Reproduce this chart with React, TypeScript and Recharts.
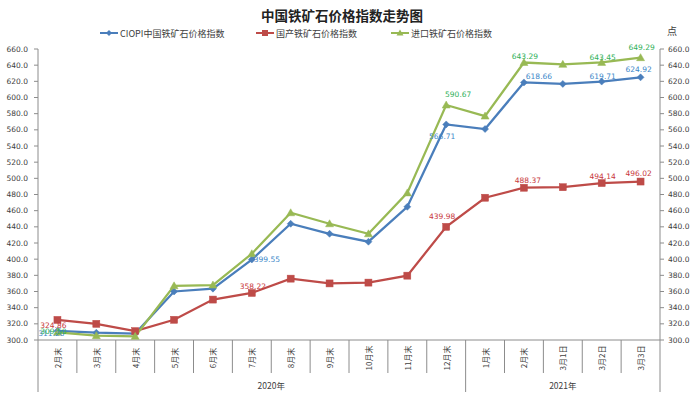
import React from 'react';
import { LineChart, Line, XAxis, YAxis, LabelList } from 'recharts';

const categories = ['2月末', '3月末', '4月末', '5月末', '6月末', '7月末', '8月末', '9月末', '10月末', '11月末', '12月末', '1月末', '2月末', '3月1日', '3月2日', '3月3日'];
const ciopi = [311.2, 309.0, 308.0, 360.0, 363.5, 399.55, 443.8, 431.4, 421.6, 464.8, 566.71, 561.0, 618.66, 616.8, 619.71, 624.92];
const domestic = [324.86, 320.0, 311.0, 325.0, 350.0, 358.22, 375.9, 370.0, 371.0, 379.6, 439.98, 476.0, 488.37, 489.0, 494.14, 496.02];
const imported = [309.5, 305.4, 304.5, 367.0, 368.0, 406.7, 457.4, 443.8, 431.4, 482.0, 590.67, 577.0, 643.29, 641.0, 643.45, 649.29];
const yTicks = [300, 320, 340, 360, 380, 400, 420, 440, 460, 480, 500, 520, 540, 560, 580, 600, 620, 640, 660];
const yearLabels = ['2020年', '2021年'];
const seriesNames = ['CIOPI中国铁矿石价格指数', '国产铁矿石价格指数', '进口铁矿石价格指数'];
const title = '中国铁矿石价格指数走势图';
const unitLabel = '点';

const data = categories.map((c, i) => ({ cat: c, ciopi: ciopi[i], domestic: domestic[i], imported: imported[i] }));

const CHART_W = 697;
const PLOT_LEFT = 38;
const PLOT_RIGHT_W = 37;
const HALF_BAND = (CHART_W - PLOT_LEFT - PLOT_RIGHT_W) / categories.length / 2;

const BLUE = '#4A7EBB';
const RED = '#BE4B48';
const GREEN = '#98B954';
const AXIS = '#8C8C8C';
const TXT = '#404040';
const NUMFONT = 'DejaVu Sans, sans-serif';
const CJK = '"Noto Sans CJK SC", sans-serif';

// label offsets (dx, dy) relative to point, keyed by index
const blueLabelPos: Record<number, [number, number]> = { 0: [-6, 3], 5: [15, 0], 10: [-4, 12], 12: [15, -6], 14: [1, -5], 15: [-2, -8] };
const redLabelPos: Record<number, [number, number]> = { 0: [-4, 6], 5: [1, -6], 10: [-4, -10], 12: [4, -7], 14: [1, -7], 15: [-2, -8] };
const greenLabelPos: Record<number, [number, number]> = { 0: [-4, -1], 10: [12, -11], 12: [1, -6], 14: [1, -5], 15: [1, -10] };

const makeLabel = (color: string, pos: Record<number, [number, number]>) => (props: any) => {
  const { x, y, value, index } = props;
  const off = pos[index];
  if (!off || x == null || y == null) return null;
  return (
    <text key={`lbl-${index}`} x={x + off[0]} y={y + off[1]} textAnchor="middle" dominantBaseline="central" fill={color} fontSize={7.5} fontFamily={NUMFONT}>
      {Number(value).toFixed(2)}
    </text>
  );
};

const DiamondDot = (props: any) => {
  const { cx, cy, index } = props;
  if (cx == null || cy == null) return <g key={`d-${index}`} />;
  return <path key={`d-${index}`} d={`M${cx},${cy - 3.5}L${cx + 3.5},${cy}L${cx},${cy + 3.5}L${cx - 3.5},${cy}Z`} fill={BLUE} stroke={BLUE} strokeWidth={0.5} />;
};
const SquareDot = (props: any) => {
  const { cx, cy, index } = props;
  if (cx == null || cy == null) return <g key={`s-${index}`} />;
  return <rect key={`s-${index}`} x={cx - 3.5} y={cy - 3.5} width={7} height={7} fill={RED} stroke={RED} strokeWidth={0.5} />;
};
const TriDot = (props: any) => {
  const { cx, cy, index } = props;
  if (cx == null || cy == null) return <g key={`t-${index}`} />;
  return <path key={`t-${index}`} d={`M${cx},${cy - 4}L${cx + 4},${cy + 3}L${cx - 4},${cy + 3}Z`} fill={GREEN} stroke={GREEN} strokeWidth={0.5} />;
};

const CatTick = (props: any) => {
  const { x, y, payload, index } = props;
  const off = HALF_BAND;
  const n = categories.length;
  const left = x - off;
  const right = x + off;
  const long = index === 0 || index === 11;
  return (
    <g>
      <line x1={left} y1={y} x2={left} y2={y + (long ? 52 : 33)} stroke={AXIS} strokeWidth={1} />
      {index === n - 1 && <line x1={right} y1={y} x2={right} y2={y + 52} stroke={AXIS} strokeWidth={1} />}
      <text x={x} y={y + 18} transform={`rotate(-90 ${x} ${y + 18})`} textAnchor="middle" dominantBaseline="central" fill={TXT} fontSize={8} fontFamily={CJK}>
        {payload.value}
      </text>
      {index === 5 && (
        <text x={right} y={y + 45} textAnchor="middle" dominantBaseline="central" fill={TXT} fontSize={8.5} fontFamily={CJK}>
          {yearLabels[0]}
        </text>
      )}
      {index === 13 && (
        <text x={x} y={y + 45} textAnchor="middle" dominantBaseline="central" fill={TXT} fontSize={8.5} fontFamily={CJK}>
          {yearLabels[1]}
        </text>
      )}
    </g>
  );
};

const LegendIcon = ({ color, kind }: { color: string; kind: string }) => (
  <svg width={18} height={10} style={{ display: 'block' }}>
    <line x1={0} y1={5} x2={18} y2={5} stroke={color} strokeWidth={2} />
    {kind === 'd' && <path d="M9,2L12,5L9,8L6,5Z" fill={color} />}
    {kind === 's' && <rect x={6} y={2} width={6} height={6} fill={color} />}
    {kind === 't' && <path d="M9,1.5L12.5,7.5L5.5,7.5Z" fill={color} />}
  </svg>
);

const legendItems = [
  { name: seriesNames[0], color: BLUE, kind: 'd', left: 100 },
  { name: seriesNames[1], color: RED, kind: 's', left: 256 },
  { name: seriesNames[2], color: GREEN, kind: 't', left: 391 },
];

export default function App() {
  return (
    <div style={{ position: 'absolute', left: 0, top: 0, width: 697, height: 398, background: '#fff', overflow: 'hidden' }}>
      <div style={{ position: 'absolute', left: 0, top: 5, width: 684, textAlign: 'center', fontFamily: CJK, fontWeight: 700, fontSize: 13.5, color: '#222', lineHeight: '20px' }}>
        {title}
      </div>
      {legendItems.map((it) => (
        <div key={it.name} style={{ position: 'absolute', left: it.left, top: 27, height: 12, display: 'flex', alignItems: 'center', fontFamily: CJK, fontSize: 9, color: TXT, whiteSpace: 'nowrap' }}>
          <LegendIcon color={it.color} kind={it.kind} />
          <span style={{ marginLeft: 2 }}>{it.name}</span>
        </div>
      ))}
      <div style={{ position: 'absolute', left: 667, top: 24, fontFamily: CJK, fontSize: 10, color: TXT, lineHeight: '14px' }}>{unitLabel}</div>
      <div style={{ position: 'absolute', left: 0, top: 0 }}>
        <LineChart width={CHART_W} height={398} data={data} margin={{ top: 49, right: 0, left: 0, bottom: 0 }}>
          <XAxis dataKey="cat" interval={0} height={58} padding={{ left: HALF_BAND, right: HALF_BAND }} tickLine={false} tickSize={0} tickMargin={0} axisLine={{ stroke: AXIS }} tick={<CatTick />} />
          <YAxis yAxisId="left" orientation="left" width={PLOT_LEFT} domain={[300, 660]} ticks={yTicks} interval={0} tickFormatter={(v: number) => v.toFixed(1)} axisLine={{ stroke: AXIS }} tickLine={{ stroke: AXIS }} tickSize={4} tickMargin={6} tick={{ fill: TXT, fontSize: 7.5, fontFamily: NUMFONT }} allowDataOverflow />
          <YAxis yAxisId="right" orientation="right" width={PLOT_RIGHT_W} domain={[300, 660]} ticks={yTicks} interval={0} tickFormatter={(v: number) => v.toFixed(1)} axisLine={{ stroke: AXIS }} tickLine={{ stroke: AXIS }} tickSize={4} tickMargin={4} tick={{ fill: TXT, fontSize: 7.5, fontFamily: NUMFONT }} allowDataOverflow />
          <Line yAxisId="left" type="linear" dataKey="ciopi" name={seriesNames[0]} stroke={BLUE} strokeWidth={2.25} dot={DiamondDot} activeDot={false} isAnimationActive={false}>
            <LabelList dataKey="ciopi" content={makeLabel('#3B87C9', blueLabelPos)} />
          </Line>
          <Line yAxisId="left" type="linear" dataKey="domestic" name={seriesNames[1]} stroke={RED} strokeWidth={2.25} dot={SquareDot} activeDot={false} isAnimationActive={false}>
            <LabelList dataKey="domestic" content={makeLabel('#C8373C', redLabelPos)} />
          </Line>
          <Line yAxisId="left" type="linear" dataKey="imported" name={seriesNames[2]} stroke={GREEN} strokeWidth={2.25} dot={TriDot} activeDot={false} isAnimationActive={false}>
            <LabelList dataKey="imported" content={makeLabel('#2EAF57', greenLabelPos)} />
          </Line>
        </LineChart>
      </div>
    </div>
  );
}
